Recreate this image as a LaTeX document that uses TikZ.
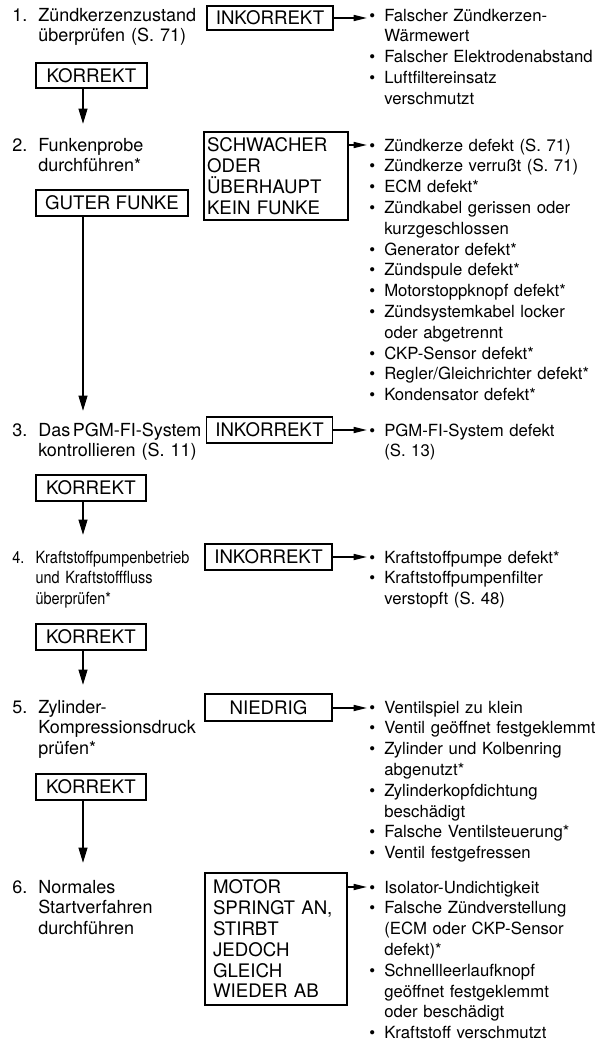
\documentclass[tikz,border=0pt]{standalone}
\usepackage{fontspec}
\setmainfont{TeX Gyre Heros}
\newfontfamily\narrowfont[FakeStretch=0.86]{TeX Gyre Heros}
\usetikzlibrary{arrows.meta}
\newcommand\blt{\makebox[11.25pt][l]{\textbullet}}
\newcommand\ind{\hspace*{11.25pt}}
\newcommand\nm[1]{\makebox[19.5pt][l]{#1}}
\newcommand\nind{\hspace*{19.5pt}}
\begin{document}
\begin{tikzpicture}[x=0.75pt,y=-0.75pt,
  every node/.style={inner sep=0pt},
  txt/.style={anchor=base west, align=left, text width=240pt, font=\fontsize{13.5pt}{15.6pt}\selectfont},
  smalltxt/.style={txt, font=\narrowfont\fontsize{12.6pt}{15.6pt}\selectfont},
  lst/.style={anchor=base west, align=left, text width=240pt, font=\fontsize{12.55pt}{15.6pt}\selectfont},
  box/.style={draw, line width=1.4pt, font=\fontsize{14pt}{15.6pt}\selectfont},
  mbox/.style={box, align=left},
  varr/.style={line width=1.5pt, -{Triangle[length=11.5pt,width=6.5pt]}},
  harr/.style={line width=1.2pt, -{Triangle[length=10pt,width=4.5pt]}},
]
\useasboundingbox (0,0) rectangle (596,1043);

% steps
\node[txt] (s1) at (12,21) {\nm{1.}Zündkerzenzustand\\\nind überprüfen (S.~71)};
\node[txt] (s2) at (12,151) {\nm{2.}Funkenprobe\\\nind durchführen*};
\node[txt] (s3) at (12,436) {\nm{3.}Das\hspace{2pt}PGM-FI-System\\\nind kontrollieren (S.~11)};
\node[smalltxt] (s4) at (12,563) {\makebox[17.5pt][l]{4.}Kraftstoffpumpenbetrieb\\\hspace*{17.5pt}und Kraftstofffluss\\\hspace*{17.5pt}überprüfen*};
\node[txt] (s5) at (12,713) {\nm{5.}Zylinder-\\\nind Kompressionsdruck\\\nind prüfen*};
\node[txt] (s6) at (12,893) {\nm{6.}Normales\\\nind Startverfahren\\\nind durchführen};

% left boxes
\node[box, minimum width=111*0.75pt, minimum height=25*0.75pt] (k1) at (91.5,75.5) {KORREKT};
\node[box, minimum width=152*0.75pt, minimum height=26*0.75pt] (g2) at (112,203) {GUTER FUNKE};
\node[box, minimum width=110*0.75pt, minimum height=26*0.75pt] (k3) at (91,488) {KORREKT};
\node[box, minimum width=110*0.75pt, minimum height=26*0.75pt] (k4) at (91,637) {KORREKT};
\node[box, minimum width=110*0.75pt, minimum height=26*0.75pt] (k5) at (91,787) {KORREKT};

% right boxes
\node[box, minimum width=126*0.75pt, minimum height=24*0.75pt] (i1) at (270,18) {INKORREKT};
\node[mbox, inner xsep=3*0.75pt, text width=138*0.75pt, minimum height=88*0.75pt] (b2) at (276,176) {SCHWACHER\\ODER\\ÜBERHAUPT\\KEIN FUNKE};
\node[box, minimum width=126*0.75pt, minimum height=26*0.75pt] (i3) at (269.5,430) {INKORREKT};
\node[box, minimum width=127*0.75pt, minimum height=26*0.75pt] (i4) at (268.5,557) {INKORREKT};
\node[box, minimum width=127*0.75pt, minimum height=27*0.75pt] (n5) at (268.5,707.5) {NIEDRIG};
\node[mbox, inner xsep=8*0.75pt, text width=126*0.75pt, minimum height=132*0.75pt] (m6) at (276,939) {MOTOR\\SPRINGT AN,\\STIRBT\\JEDOCH\\GLEICH\\WIEDER AB};

% lists
\node[lst] (l1) at (369,21) {\blt Falscher Zündkerzen-\\\ind Wärmewert\\\blt Falscher Elektrodenabstand\\\blt Luftfiltereinsatz\\\ind verschmutzt};
\node[lst] (l2) at (369,151) {\blt Zündkerze defekt (S.~71)\\\blt Zündkerze verrußt (S.~71)\\\blt ECM defekt*\\\blt Zündkabel gerissen oder\\\ind kurzgeschlossen\\\blt Generator defekt*\\\blt Zündspule defekt*\\\blt Motorstoppknopf defekt*\\\blt Zündsystemkabel locker\\\ind oder abgetrennt\\\blt CKP-Sensor defekt*\\\blt Regler/Gleichrichter defekt*\\\blt Kondensator defekt*};
\node[lst] (l3) at (369,436) {\blt PGM-FI-System defekt\\\ind (S.~13)};
\node[lst] (l4) at (369,563) {\blt Kraftstoffpumpe defekt*\\\blt Kraftstoffpumpenfilter\\\ind verstopft (S.~48)};
\node[lst] (l5) at (369,713) {\blt Ventilspiel zu klein\\\blt Ventil geöffnet festgeklemmt\\\blt Zylinder und Kolbenring\\\ind abgenutzt*\\\blt Zylinderkopfdichtung\\\ind beschädigt\\\blt Falsche Ventilsteuerung*\\\blt Ventil festgefressen};
\node[lst] (l6) at (369,893) {\blt Isolator-Undichtigkeit\\\blt Falsche Zündverstellung\\\ind (ECM oder CKP-Sensor\\\ind defekt)*\\\blt Schnellleerlaufknopf\\\ind geöffnet festgeklemmt\\\ind oder beschädigt\\\blt Kraftstoff verschmutzt};

% vertical arrows
\coordinate (a1) at (83,124);
\coordinate (a2) at (83,411);
\coordinate (a3) at (83,535);
\coordinate (a4) at (83,685);
\coordinate (a5) at (83,863);
\draw[varr] (k1.south -| a1) -- (a1);
\draw[varr] (g2.south -| a2) -- (a2);
\draw[varr] (k3.south -| a3) -- (a3);
\draw[varr] (k4.south -| a4) -- (a4);
\draw[varr] (k5.south -| a5) -- (a5);

% horizontal arrows
\coordinate (t1) at (367,18);
\coordinate (t2) at (367,145);
\coordinate (t3) at (367,430);
\coordinate (t4) at (367,557);
\coordinate (t5) at (367,708);
\coordinate (t6) at (367,887);
\draw[harr] (i1.east) -- (t1);
\draw[harr] (b2.east |- t2) -- (t2);
\draw[harr] (i3.east) -- (t3);
\draw[harr] (i4.east) -- (t4);
\draw[harr] (n5.east |- t5) -- (t5);
\draw[harr] (m6.east |- t6) -- (t6);
\end{tikzpicture}
\end{document}
